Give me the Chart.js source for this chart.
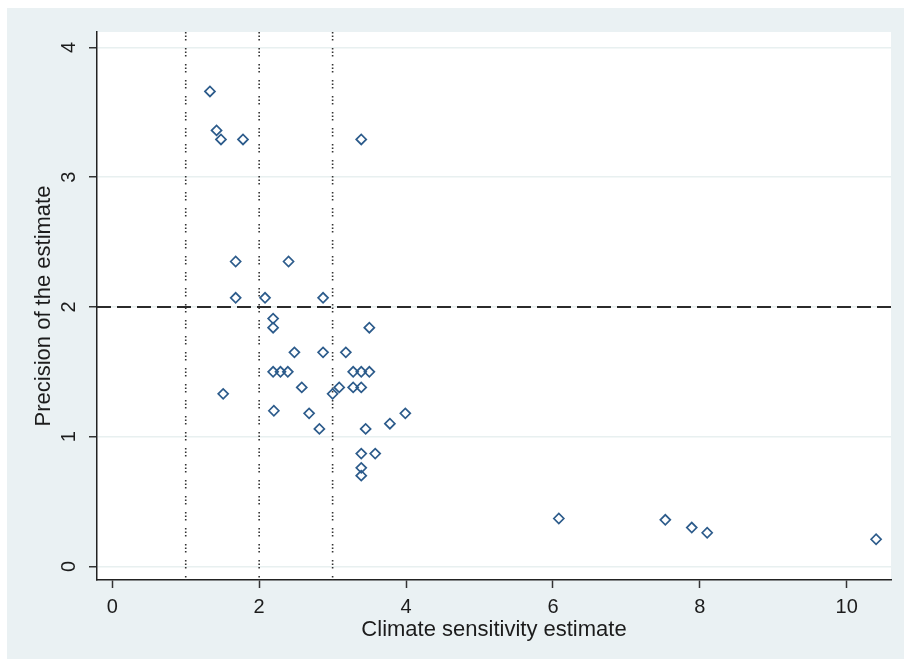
<!DOCTYPE html>
<html>
<head>
<meta charset="utf-8">
<script src="https://cdn.jsdelivr.net/npm/chart.js@4.4.1/dist/chart.umd.min.js"></script>
<style>
  html, body { margin: 0; padding: 0; background: #ffffff; }
  #wrap { width: 904px; height: 663px; }
</style>
</head>
<body>
<div id="wrap"><canvas id="plot" width="904" height="663"></canvas></div>
<script>
// Climate sensitivity estimates (x) and their precision (y)
const sensitivity = [
    1.33, 1.42, 1.48, 1.78, 3.39,
    1.68, 2.40, 1.68, 2.08, 2.87,
    2.19, 2.19, 3.50,
    2.48, 2.87, 3.18,
    2.19, 2.29, 2.39, 3.28, 3.39, 3.50,
    2.58, 3.09, 3.28, 3.39,
    1.51, 3.00,
    2.20, 2.68, 3.99, 3.78, 2.82, 3.45,
    3.39, 3.58, 3.39, 3.39,
    6.08, 7.53, 7.89, 8.10, 10.40
];
const precision = [
    3.66, 3.36, 3.29, 3.29, 3.29,
    2.35, 2.35, 2.07, 2.07, 2.07,
    1.91, 1.84, 1.84,
    1.65, 1.65, 1.65,
    1.50, 1.50, 1.50, 1.50, 1.50, 1.50,
    1.38, 1.38, 1.38, 1.38,
    1.33, 1.33,
    1.20, 1.18, 1.18, 1.10, 1.06, 1.06,
    0.87, 0.87, 0.76, 0.70,
    0.37, 0.36, 0.30, 0.26, 0.21
];

// reference lines
const refX = [1, 2, 3];
const refY = [2];

// axis ticks
const xTicks = [0, 2, 4, 6, 8, 10];
const yTicks = [0, 1, 2, 3, 4];
const xMin = -0.208, xMax = 10.603;
const yMin = -0.104, yMax = 4.118;

const TEXT = '#1c1c1c';
const FONT = "'Liberation Sans', Arial, sans-serif";

const points = sensitivity.map((x, i) => ({ x: x, y: precision[i] }));

const datasets = [{
    label: 'Estimates',
    data: points,
    pointStyle: 'rectRot',
    pointRadius: 5,
    pointBorderWidth: 1.7,
    borderColor: '#2c5b8b',
    backgroundColor: 'rgba(0,0,0,0)'
}];

refY.forEach(v => {
    datasets.push({
        label: 'y = ' + v,
        data: [{ x: xMin, y: v }, { x: xMax, y: v }],
        showLine: true,
        pointRadius: 0,
        borderColor: '#2b2b2b',
        borderWidth: 2,
        borderDash: [14, 6]
    });
});

refX.forEach(v => {
    datasets.push({
        label: 'x = ' + v,
        data: [{ x: v, y: yMax }, { x: v, y: yMin }],
        showLine: true,
        pointRadius: 0,
        borderColor: '#333333',
        borderWidth: 1.6,
        borderDash: [1.5, 2, 1.5, 2, 1.5, 7.5]
    });
});

// Stata-like panel: light bluish outer region, white plot region
const panel = {
    id: 'panel',
    beforeDraw(chart) {
        const c = chart.ctx, a = chart.chartArea;
        c.save();
        c.fillStyle = '#ffffff';
        c.fillRect(0, 0, chart.width, chart.height);
        c.fillStyle = '#eaf1f3';
        c.fillRect(7, 8, chart.width - 7, chart.height - 12);
        c.fillStyle = '#ffffff';
        c.fillRect(a.left, a.top, a.right - a.left, a.bottom - a.top);
        c.restore();
    }
};

new Chart(document.getElementById('plot').getContext('2d'), {
    type: 'scatter',
    data: { datasets: datasets },
    plugins: [panel],
    options: {
        responsive: false,
        animation: false,
        devicePixelRatio: 1,
        layout: { padding: { top: 32, right: 13, bottom: 0, left: 0 } },
        plugins: {
            legend: { display: false },
            tooltip: { enabled: false }
        },
        scales: {
            x: {
                type: 'linear',
                min: xMin,
                max: xMax,
                afterFit: s => { s.height = 83; },
                afterBuildTicks: s => { s.ticks = xTicks.map(v => ({ value: v })); },
                border: { display: true, color: '#222222', width: 1.5 },
                grid: { drawOnChartArea: false, drawTicks: true, tickLength: 8, tickColor: '#333333', tickWidth: 1.5 },
                ticks: { includeBounds: false, padding: 7, color: TEXT, font: { family: FONT, size: 20 } },
                title: {
                    display: true,
                    text: 'Climate sensitivity estimate',
                    color: TEXT,
                    font: { family: FONT, size: 22 },
                    padding: { top: 0, bottom: 20 }
                }
            },
            y: {
                type: 'linear',
                min: yMin,
                max: yMax,
                afterFit: s => { s.width = 97; },
                afterBuildTicks: s => { s.ticks = yTicks.map(v => ({ value: v })); },
                border: { display: true, color: '#222222', width: 1.5 },
                grid: { color: '#e8f0f0', lineWidth: 1.5, drawTicks: true, tickLength: 8, tickColor: '#333333', tickWidth: 1.5 },
                ticks: {
                    includeBounds: false,
                    minRotation: 90,
                    maxRotation: 90,
                    crossAlign: 'center',
                    padding: 14,
                    color: TEXT,
                    font: { family: FONT, size: 20 }
                },
                title: {
                    display: true,
                    text: 'Precision of the estimate',
                    color: TEXT,
                    font: { family: FONT, size: 22 },
                    padding: { top: 31, bottom: 0 }
                }
            }
        }
    }
});
</script>
</body>
</html>
